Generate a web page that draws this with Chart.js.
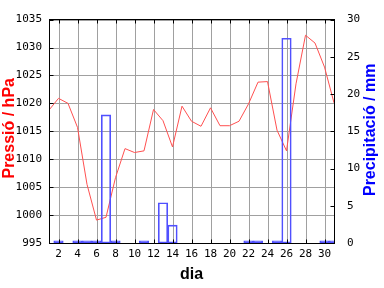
<!DOCTYPE html>
<html><head><meta charset="utf-8">
<script src="https://cdn.jsdelivr.net/npm/chart.js@4/dist/chart.umd.min.js"></script>
<style>html,body{margin:0;padding:0;background:#fff;}#wrap{width:384px;height:288px;}</style>
</head><body><div id="wrap"><canvas id="c" width="384" height="288"></canvas></div>
<script>
const days = [1,2,3,4,5,6,7,8,9,10,11,12,13,14,15,16,17,18,19,20,21,22,23,24,25,26,27,28,29,30,31];
const pressure = [1018.8,1020.9,1020.0,1015.7,1005.5,999.1,999.6,1006.7,1011.9,1011.2,1011.5,1018.9,1016.9,1012.2,1019.5,1016.8,1015.9,1019.2,1016.0,1016.0,1016.8,1019.9,1023.8,1023.9,1015.2,1011.5,1023.5,1032.2,1030.8,1026.5,1020.1];
const precipDays = [2,4,5,6,7,8,11,13,14,22,23,25,26,30,31];
const precipValues = [0.3,0.3,0.3,0.3,17.2,0.3,0.3,5.4,2.4,0.3,0.3,0.3,27.5,0.3,0.3];
const xTicks = [2,4,6,8,10,12,14,16,18,20,22,24,26,28,30];
const pressureTicks = [995,1000,1005,1010,1015,1020,1025,1030,1035];
const precipTicks = [0,5,10,15,20,25,30];
const xTitle = 'dia';
const yTitle = 'Pressió / hPa';
const y2Title = 'Precipitació / mm';

const RED = '#ff5050', BLUE = '#5050ff', GRID = '#a0a0a0';
const tickFont = {family: '"DejaVu Sans Mono", monospace', size: 11};
const titleFont = 'bold 16px "Liberation Sans", Arial, sans-serif';

const pressureData = days.map((d, i) => ({x: d, y: pressure[i]}));
const precipData = days.map(d => {
  const k = precipDays.indexOf(d);
  return {x: d, y: k >= 0 ? precipValues[k] : null};
});

const framePlugin = {
  id: 'frame',
  beforeDatasetsDraw(chart) {
    const {ctx, chartArea: a, scales} = chart;
    const L = Math.floor(a.left) + 0.5, R = Math.floor(a.right) + 0.5;
    const T = Math.floor(a.top) + 0.5, B = Math.floor(a.bottom) + 0.5;
    ctx.save();
    ctx.strokeStyle = GRID;
    ctx.lineWidth = 1;
    ctx.beginPath();
    xTicks.forEach(v => {
      const px = Math.round(scales.x.getPixelForValue(v)) + 0.5;
      ctx.moveTo(px, T); ctx.lineTo(px, B);
    });
    pressureTicks.forEach(v => {
      const py = Math.round(scales.y.getPixelForValue(v)) + 0.5;
      ctx.moveTo(L, py); ctx.lineTo(R, py);
    });
    ctx.stroke();
    ctx.restore();
  },
  afterDraw(chart) {
    const {ctx, chartArea: a, scales} = chart;
    const L = Math.floor(a.left) + 0.5, R = Math.floor(a.right) + 0.5;
    const T = Math.floor(a.top) + 0.5, B = Math.floor(a.bottom) + 0.5;
    ctx.save();
    ctx.strokeStyle = '#000';
    ctx.lineWidth = 1;
    ctx.beginPath();
    xTicks.forEach(v => {
      const px = Math.round(scales.x.getPixelForValue(v)) + 0.5;
      ctx.moveTo(px, B); ctx.lineTo(px, B - 4);
      ctx.moveTo(px, T); ctx.lineTo(px, T + 4);
    });
    pressureTicks.forEach(v => {
      const py = Math.round(scales.y.getPixelForValue(v)) + 0.5;
      ctx.moveTo(L, py); ctx.lineTo(L + 4, py);
    });
    precipTicks.forEach(v => {
      const py = Math.round(scales.y2.getPixelForValue(v)) + 0.5;
      ctx.moveTo(R, py); ctx.lineTo(R - 4, py);
    });
    ctx.stroke();
    ctx.strokeRect(L, T, R - L, B - T);
    // titles
    ctx.font = titleFont;
    ctx.textAlign = 'center';
    ctx.textBaseline = 'alphabetic';
    ctx.fillStyle = '#000';
    ctx.fillText(xTitle, (a.left + a.right) / 2, 279);
    ctx.save();
    ctx.translate(13.5, (a.top + a.bottom) / 2 - 3);
    ctx.rotate(-Math.PI / 2);
    ctx.fillStyle = '#ff0000';
    ctx.fillText(yTitle, 0, 0);
    ctx.restore();
    ctx.save();
    ctx.translate(375, (a.top + a.bottom) / 2 - 1.5);
    ctx.rotate(-Math.PI / 2);
    ctx.fillStyle = '#0000ff';
    ctx.fillText(y2Title, 0, 0);
    ctx.restore();
    ctx.restore();
  }
};

new Chart(document.getElementById('c'), {
  type: 'bar',
  data: {
    datasets: [
      {
        type: 'bar', label: 'precip', data: precipData, yAxisID: 'y2', xAxisID: 'x',
        backgroundColor: 'rgba(0,0,0,0)', borderColor: BLUE, borderWidth: 1, borderSkipped: false,
        barPercentage: 1, categoryPercentage: 1, clip: 0
      },
      {
        type: 'line', label: 'pressure', data: pressureData, yAxisID: 'y', xAxisID: 'x',
        borderColor: RED, borderWidth: 1, pointRadius: 0, tension: 0, fill: false
      }
    ]
  },
  options: {
    responsive: false, animation: false, devicePixelRatio: 1,
    layout: {padding: {top: 15, left: 0, right: 0, bottom: 0}},
    plugins: {legend: {display: false}, tooltip: {enabled: false}},
    scales: {
      x: {
        type: 'linear', position: 'bottom', min: 1, max: 31, offset: false,
        afterBuildTicks: s => { s.ticks = xTicks.map(v => ({value: v})); },
        ticks: {font: tickFont, color: '#000', padding: 5, autoSkip: false, maxRotation: 0, callback: v => String(v)},
        grid: {display: false, offset: false, drawTicks: false}, border: {display: false},
        afterFit: s => { s.height = 45; }
      },
      y: {
        type: 'linear', position: 'left', min: 995, max: 1035,
        afterBuildTicks: s => { s.ticks = pressureTicks.map(v => ({value: v})); },
        ticks: {font: tickFont, color: '#000', padding: 7, callback: v => String(v)},
        grid: {display: false, drawTicks: false}, border: {display: false},
        afterFit: s => { s.width = 49; }
      },
      y2: {
        type: 'linear', position: 'right', min: 0, max: 30,
        afterBuildTicks: s => { s.ticks = precipTicks.map(v => ({value: v})); },
        ticks: {font: tickFont, color: '#000', padding: 13, callback: v => String(v)},
        grid: {display: false, drawTicks: false}, border: {display: false},
        afterFit: s => { s.width = 50; }
      }
    }
  },
  plugins: [framePlugin]
});
</script></body></html>
